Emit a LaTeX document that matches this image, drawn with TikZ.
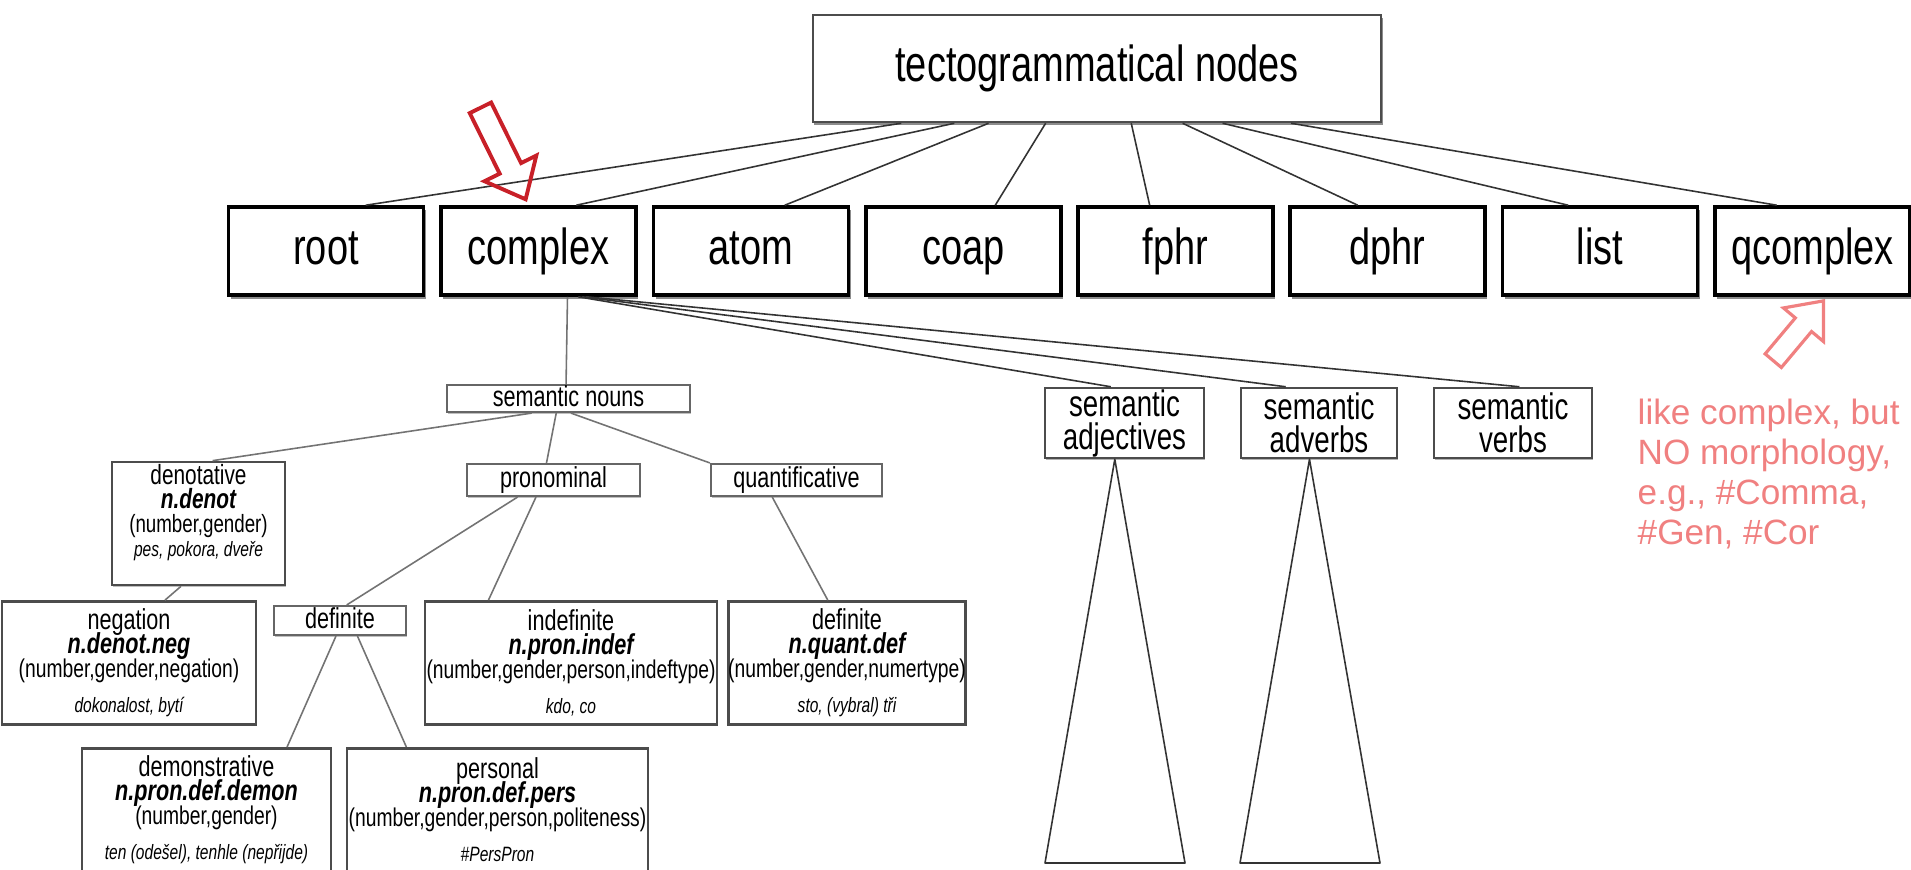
\documentclass[tikz,border=0pt]{standalone}
\usepackage{fontspec}
\setmainfont{Liberation Sans}[FakeStretch=0.75]
\newfontfamily\notefont{Liberation Sans}
\usetikzlibrary{calc,shapes.arrows,shadows}
\definecolor{markred}{RGB}{200,32,40}
\definecolor{notepink}{RGB}{240,128,128}
\def\link[#1](#2:#3)(#4:#5){\draw[#1] ($(#2.south west)!#3!(#2.south east)$) -- ($(#4.north west)!#5!(#4.north east)$);}
\newcommand\nodetext[4]{{\fontsize{8.2}{6.8}\selectfont #1}\\{\fontsize{8.2}{6.8}\selectfont\bfseries\itshape #2}\\#3\\[3.2pt]{\fontsize{5.9}{6.8}\selectfont\itshape #4}}

\begin{document}
\lineskiplimit=-20pt
\begin{tikzpicture}[x=0.01cm, y=-0.01cm,
	every node/.style={inner sep=0pt},
	top/.style={draw=black!70, line width=.7pt, fill=white, minimum width=5.68cm, minimum height=1.07cm, font=\fontsize{14.4}{17}\selectfont, drop shadow={shadow xshift=.4pt, shadow yshift=-.8pt, fill=black!45, opacity=1}},
	cat/.style={draw=black, line width=1pt, fill=white, minimum width=1.95cm, minimum height=.88cm, text height=10.5pt, text depth=3pt, font=\fontsize{14.4}{17}\selectfont, drop shadow={shadow xshift=.6pt, shadow yshift=-1pt, fill=black!45, opacity=1}},
	small/.style={draw=black!60, line width=.6pt, fill=white, text height=6pt, text depth=1.7pt, font=\fontsize{8.2}{9}\selectfont, drop shadow={shadow xshift=.3pt, shadow yshift=-.5pt, fill=black!25, opacity=1}},
	sem/.style={draw=black!70, line width=.7pt, fill=white, align=center, minimum height=.70cm, font=\fontsize{10.5}{9.4}\selectfont, drop shadow={shadow xshift=.3pt, shadow yshift=-.6pt, fill=black!30, opacity=1}},
	detail/.style={draw=black!70, line width=.75pt, fill=white, align=center, minimum height=1.23cm, font=\fontsize{7.3}{6.8}\selectfont, drop shadow={shadow xshift=.4pt, shadow yshift=-.5pt, fill=black!25, opacity=1}},
	edge/.style={draw=black!80, line width=.45pt},
	subedge/.style={draw=black!55, line width=.45pt}]
	
	\useasboundingbox (0,0) rectangle (1911,869);
	
	%%%%% NODES %%%%%
	
	\node[top] (tecto) at (1097, 68.5) {tectogrammatical nodes};
	
	\node[cat] (root) at (326, 251) {root};
	\node[cat] (complex) at (538.5, 251) {complex};
	\node[cat] (atom) at (751, 251) {atom};
	\node[cat] (coap) at (963.5, 251) {coap};
	\node[cat] (fphr) at (1175.5, 251) {fphr};
	\node[cat] (dphr) at (1387.5, 251) {dphr};
	\node[cat] (list) at (1600, 251) {list};
	\node[cat] (qcomplex) at (1812.5, 251) {qcomplex};
	
	\node[small, minimum width=2.43cm, minimum height=.27cm] (snouns) at (568.5, 398.5) {semantic nouns};
	\node[sem, minimum width=1.59cm] (sadj) at (1124.5, 423) {semantic\\adjectives};
	\node[sem, minimum width=1.56cm] (sadv) at (1319, 423) {semantic\\adverbs};
	\node[sem, minimum width=1.58cm] (sverb) at (1513, 423) {semantic\\verbs};
	
	\node[detail, minimum width=1.73cm, font=\fontsize{7.1}{6.8}\selectfont] (denot) at (198.5, 523.5) {{\fontsize{7.9}{6.8}\selectfont denotative}\\{\fontsize{7.9}{6.8}\selectfont\bfseries\itshape n.denot}\\(number,gender)\\{\fontsize{5.9}{6.8}\selectfont\itshape pes, pokora, dveře}\\[.7pt]\mbox{}};
	\node[small, minimum width=1.73cm, minimum height=.32cm] (pron) at (553.5, 480) {pronominal};
	\node[small, minimum width=1.71cm, minimum height=.32cm] (quant) at (796.5, 480) {quantificative};
	
	\node[detail, minimum width=2.54cm] (neg) at (129, 663) {\nodetext{negation}{n.denot.neg}{(number,gender,negation)}{dokonalost, bytí}};
	\node[small, minimum width=1.32cm, minimum height=.29cm] (pdef) at (340, 620.5) {definite};
	\node[detail, minimum width=2.92cm] (indef) at (571, 663) {\nodetext{indefinite}{n.pron.indef}{(number,gender,person,indeftype)}{kdo, co}};
	\node[detail, minimum width=2.14cm] (qdef) at (847, 663) {\nodetext{definite}{n.quant.def}{(number,gender,numertype)}{sto, (vybral) tři}};
	
	\node[detail, anchor=north, minimum width=2.49cm] (demon) at (206.5, 747) {\nodetext{demonstrative}{n.pron.def.demon}{(number,gender)}{ten (odešel), tenhle (nepřijde)}};
	\node[detail, anchor=north, minimum width=3.01cm] (pers) at (497.5, 747) {\nodetext{personal}{n.pron.def.pers}{(number,gender,person,politeness)}{\#PersPron}};
	
	%%%%% CONNECTORS %%%%%
	
	\link[edge](tecto:.157)(root:.70)
	\link[edge](tecto:.25)(complex:.69)
	\link[edge](tecto:.31)(atom:.67)
	\link[edge](tecto:.41)(coap:.66)
	\link[edge](tecto:.56)(fphr:.37)
	\link[edge](tecto:.65)(dphr:.35)
	\link[edge](tecto:.72)(list:.34)
	\link[edge](tecto:.84)(qcomplex:.32)
	
	\link[subedge](complex:.646)(snouns:.49)
	\link[edge](complex:.70)(sadj:.415)
	\link[edge](complex:.72)(sadv:.29)
	\link[edge](complex:.74)(sverb:.54)
	
	\link[subedge](snouns:.35)(denot:.58)
	\link[subedge](snouns:.45)(pron:.46)
	\link[subedge](snouns:.51)(quant:.00)
	
	\link[subedge](denot:.40)(neg:.64)
	\link[subedge](pron:.295)(pdef:.55)
	\link[subedge](pron:.40)(indef:.22)
	\link[subedge](quant:.36)(qdef:.42)
	\link[subedge](pdef:.47)(demon:.82)
	\link[subedge](pdef:.63)(pers:.20)
	
	% open subtrees
	\coordinate (adjL) at (1045, 863);
	\coordinate (adjR) at (1185, 863);
	\coordinate (advL) at (1240, 863);
	\coordinate (advR) at (1380, 863);
	\draw[edge, line join=round] ($(sadj.south west)!.44!(sadj.south east)$) -- (adjL) -- (adjR) -- cycle;
	\draw[edge, line join=round] ($(sadv.south west)!.44!(sadv.south east)$) -- (advL) -- (advR) -- cycle;
	
	%%%%% MARKS %%%%%
	
	\node[single arrow, draw=markred, line width=1.1pt, inner ysep=.1cm, minimum height=1.02cm, single arrow head extend=.17cm, single arrow tip angle=80, rotate=-63.7, anchor=tip] (mark) at (527, 202) {};
	\node[single arrow, draw=notepink, line width=.9pt, inner ysep=.09cm, minimum height=.78cm, single arrow head extend=.155cm, single arrow tip angle=80, rotate=50, anchor=tip] (pointer) at (1825, 299) {};
	\node[anchor=north west, align=left, text=notepink, font=\notefont\fontsize{10}{11.4}\selectfont] (note) at (1637, 398) {like complex, but\\NO morphology,\\e.g., \#Comma,\\\#Gen, \#Cor};
	
\end{tikzpicture}
\end{document}
